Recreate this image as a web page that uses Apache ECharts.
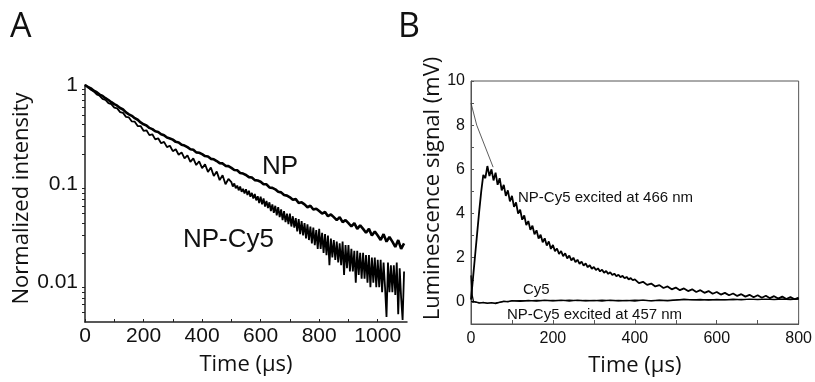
<!DOCTYPE html>
<html><head><meta charset="utf-8">
<script src="https://cdn.jsdelivr.net/npm/echarts@6/dist/echarts.min.js"></script>
<style>html,body{margin:0;padding:0;background:#fff}#c{width:815px;height:382px}</style>
</head><body><div id="c"></div>
<script>
// ---------- Panel A data (time in µs, normalized intensity) ----------
const timeNpA = [0,10,20,30,40,50,60,70,80,90,100,110,120,130,140,150,160,170,180,190,200,210,220,230,240,250,260,270,280,290,300,310,320,330,340,350,360,370,380,390,400,410,420,430,440,450,460,470,480,490,500,510,520,530,540,550,560,570,580,590,600,610,620,630,640,650,660,670,680,690,700,710,720,730,740,750,760,770,780,790,800,810,820,830,840,850,860,870,880,890,900,910,920,930,940,950,960,970,980,990,1000,1010,1020,1030,1040,1050,1060,1070,1080,1090];
const npA = [1.00,0.955,0.925,0.875,0.845,0.80,0.775,0.735,0.705,0.670,0.64,0.617,0.585,0.565,0.528,0.505,0.488,0.462,0.445,0.418,0.40,0.39,0.368,0.358,0.340,0.335,0.318,0.310,0.294,0.288,0.280,0.266,0.262,0.248,0.244,0.235,0.224,0.221,0.208,0.206,0.200,0.191,0.189,0.179,0.177,0.170,0.162,0.161,0.152,0.151,0.145,0.138,0.137,0.129,0.127,0.123,0.117,0.116,0.109,0.108,0.105,0.099,0.099,0.092,0.091,0.088,0.083,0.082,0.077,0.076,0.073,0.069,0.070,0.064,0.065,0.062,0.058,0.060,0.055,0.056,0.053,0.050,0.052,0.047,0.049,0.046,0.043,0.046,0.041,0.043,0.040,0.037,0.040,0.035,0.038,0.035,0.032,0.035,0.030,0.033,0.030,0.027,0.031,0.026,0.029,0.026,0.023,0.027,0.022,0.025];
const timeCy5A = [0,10,20,30,40,50,60,70,80,90,100,110,120,130,140,150,160,170,180,190,200,210,220,230,240,250,260,270,280,290,300,310,320,330,340,350,360,370,380,390,400,410,420,430,440,450,460,470,480,490,
  500,505,510,515,520,525,530,535,540,545,550,555,560,565,570,575,580,585,590,595,600,605,610,615,620,625,630,635,640,645,650,655,660,665,670,675,680,685,690,695,700,705,710,715,720,725,730,735,740,745,750,755,760,765,770,775,780,785,790,795,800,805,810,815,820,825,830,835,840,845,850,855,860,865,870,875,880,885,890,895,900,905,910,915,920,925,930,935,940,945,950,955,960,965,970,975,980,985,990,995,1000,1005,1010,1015,1020,1025,1030,1035,1040,1045,1050,1055,1060,1065,1070,1075,1080,1085,1090];
const npCy5A = [1.0,0.955,0.895,0.862,0.804,0.778,0.725,0.705,0.654,0.64,0.59,0.58,0.532,0.522,0.476,0.47,0.428,0.425,0.384,0.384,0.344,0.348,0.311,0.317,0.282,0.289,0.257,0.266,0.235,0.243,0.214,0.224,0.197,0.208,0.181,0.194,0.167,0.181,0.155,0.169,0.144,0.158,0.132,0.146,0.120,0.133,0.109,0.122,0.099,0.112,
  0.104,0.094,0.101,0.090,0.096,0.086,0.094,0.083,0.089,0.080,0.088,0.077,0.085,0.074,0.081,0.071,0.079,0.068,0.075,0.064,0.074,0.062,0.071,0.059,0.067,0.057,0.065,0.053,0.062,0.051,0.060,0.048,0.058,0.046,0.055,0.043,0.053,0.041,0.050,0.039,0.050,0.037,0.047,0.036,0.045,0.033,0.044,0.031,0.042,0.030,0.040,0.028,0.039,0.027,0.037,0.025,0.036,0.024,0.034,0.022,0.035,0.022,0.032,0.020,0.031,0.019,0.030,0.015,0.028,0.018,0.027,0.017,0.026,0.016,0.025,0.015,0.026,0.012,0.024,0.014,0.024,0.013,0.022,0.013,0.021,0.010,0.021,0.012,0.020,0.011,0.020,0.011,0.019,0.010,0.019,0.009,0.018,0.010,0.018,0.009,0.017,0.009,0.017,0.008,0.016,0.009,0.0045,0.016,0.008,0.015,0.008,0.015,0.0075,0.016,0.0048,0.014,0.007,0.0042,0.013];
const yTicksA = [0.01,0.1,1];
const yMinorA = [0.005,0.006,0.007,0.008,0.009,0.02,0.03,0.04,0.05,0.06,0.07,0.08,0.09,0.2,0.3,0.4,0.5,0.6,0.7,0.8,0.9];
const xLabelsA = [0,200,400,600,800,1000];
const xTicksA = [0,100,200,300,400,500,600,700,800,900,1000];

// ---------- Panel B data (time in µs, signal in mV) ----------
const time466 = [0,5,10,15,20,25,30,35,40,45,50,55,60,65,70,75,80,85,90,95,100,105,110,115,120,125,130,135,140,145,150,155,160,165,170,175,180,185,190,195,200,205,210,215,220,225,230,235,240,245,250,255,260,265,270,275,280,285,290,295,300,305,310,315,320,325,330,335,340,345,350,355,360,365,370,375,380,385,390,395,400,
  410,420,430,440,450,460,470,480,490,500,510,520,530,540,550,560,570,580,590,600,610,620,630,640,650,660,670,680,690,700,710,720,730,740,750,760,770,780,790,800];
const exc466 = [0.1,1.1,2.1,3.1,4.1,5.0,5.75,5.6,6.15,5.7,6.0,5.5,5.85,5.3,5.6,5.05,5.3,4.8,5.05,4.55,4.8,4.3,4.5,4.0,4.18,3.72,3.92,3.48,3.66,3.26,3.45,3.06,3.24,2.87,3.04,2.70,2.88,2.55,2.74,2.40,2.58,2.30,2.42,2.17,2.30,2.07,2.20,1.97,2.10,1.88,2.00,1.80,1.91,1.72,1.82,1.64,1.74,1.57,1.66,1.50,1.58,1.44,1.52,1.38,1.46,1.32,1.40,1.27,1.34,1.22,1.28,1.16,1.23,1.12,1.18,1.07,1.13,1.02,1.08,0.98,1.02,
  0.85,0.91,0.77,0.83,0.70,0.76,0.63,0.70,0.57,0.65,0.53,0.61,0.49,0.57,0.45,0.53,0.41,0.49,0.37,0.45,0.33,0.41,0.30,0.38,0.27,0.35,0.24,0.32,0.21,0.30,0.19,0.28,0.17,0.26,0.15,0.24,0.13,0.22,0.12,0.19];
const timeCy5 = [0,3,6,10,20,30,40,50,60,70,80,90,100,120,140,160,180,200,220,240,260,280,300,320,340,360,380,400,420,440,460,480,500,520,540,560,580,600,620,640,660,680,700,720,740,760,780,800];
const cy5B = [1.2,0.3,0.02,-0.03,-0.06,-0.02,-0.07,-0.03,-0.08,-0.02,0.03,0.0,0.06,0.03,0.07,0.04,0.08,0.05,0.08,0.04,0.08,0.05,0.07,0.04,0.08,0.05,0.07,0.04,0.08,0.05,0.07,0.05,0.08,0.12,0.09,0.11,0.08,0.11,0.09,0.12,0.09,0.13,0.10,0.13,0.10,0.13,0.11,0.14];
const time457 = [0,20,40,60,80,100,120,140,160,180,200,220,240,260,280,300,320,340,360,380,400,420,440,460,480,500,520,540,560,580,600,620,640,660,680,700,720,740,760,780,800];
const exc457 = [0.02,-0.03,-0.05,-0.04,0.01,0.04,0.06,0.05,0.07,0.06,0.07,0.06,0.08,0.06,0.07,0.06,0.08,0.06,0.07,0.06,0.08,0.07,0.06,0.08,0.07,0.09,0.10,0.10,0.09,0.11,0.10,0.11,0.10,0.12,0.11,0.12,0.11,0.12,0.12,0.13,0.13];
const fitTime = [0,14,54];
const fitVal = [9.0,8.0,6.1];
const yLabelsB = [0,2,4,6,8,10];
const yTicksB = [0,1,2,3,4,5,6,7,8,9,10];
const xLabelsB = [0,200,400,600,800];
const xTicksB = [0,100,200,300,400,500,600,700,800];

const pair = (t, v) => t.map((x, i) => [x, v[i]]);
const ink = '#111';
const sans = 'Liberation Sans';
const title = 'Open Sans';
const hiddenX = g => ({type: 'value', gridIndex: g, min: 0, max: 1, show: false});
const tickOnly = (g, vals, len) => ({type: 'log', logBase: 10, gridIndex: g, min: 0.004, max: 1, position: 'right',
  axisLine: {show: false}, axisLabel: {show: false}, splitLine: {show: false},
  axisTick: {show: true, inside: true, length: len, customValues: vals, lineStyle: {color: '#222', width: 1}}});

const chart = echarts.init(document.getElementById('c'), null, {renderer: 'canvas'});
chart.setOption({
  animation: false,
  backgroundColor: '#fff',
  grid: [
    {left: 85, top: 85, width: 322, height: 237, show: false},
    {left: 471, top: 81, width: 330, height: 244, show: true, borderColor: '#555', borderWidth: 1, backgroundColor: 'transparent'},
    {left: 0, top: 85, width: 85, height: 237, show: false},
    {left: 0, top: 85, width: 85, height: 237, show: false}
  ],
  xAxis: [
    {type: 'value', gridIndex: 0, min: 0, max: 1100,
     name: 'Time (µs)', nameLocation: 'middle', nameGap: 32,
     nameTextStyle: {fontFamily: title, fontSize: 22, color: ink},
     axisLine: {show: true, lineStyle: {color: '#222', width: 1.5}},
     axisTick: {show: true, inside: true, length: 3, customValues: xTicksA, lineStyle: {color: '#222'}},
     axisLabel: {customValues: xLabelsA, fontFamily: sans, fontSize: 21, color: ink, margin: 4,
                 formatter: v => String(Math.round(v))},
     splitLine: {show: false}},
    {type: 'value', gridIndex: 1, min: 0, max: 800,
     name: 'Time (µs)', nameLocation: 'middle', nameGap: 31,
     nameTextStyle: {fontFamily: title, fontSize: 22, color: ink},
     axisLine: {show: true, onZero: false, lineStyle: {color: '#555', width: 1}},
     axisTick: {show: true, inside: true, length: 4, customValues: xTicksB, lineStyle: {color: '#555'}},
     axisLabel: {customValues: xLabelsB, fontFamily: sans, fontSize: 16, color: ink, margin: 7,
                 formatter: v => String(Math.round(v))},
     splitLine: {show: false}},
    hiddenX(2), hiddenX(3)
  ],
  yAxis: [
    {type: 'log', logBase: 10, gridIndex: 0, min: 0.004, max: 1,
     name: 'Normalized intensity', nameLocation: 'middle', nameGap: 52,
     nameTextStyle: {fontFamily: title, fontSize: 22, color: ink, padding: [0, 0, 0, 10]},
     axisLine: {show: true, lineStyle: {color: '#222', width: 1.5}},
     axisTick: {show: true, inside: false, length: 3, customValues: yMinorA, lineStyle: {color: '#222'}},
     axisLabel: {customValues: yTicksA, fontFamily: sans, fontSize: 21, color: ink, margin: 7,
                 formatter: v => v >= 0.99 ? '1' : (v >= 0.099 ? '0.1' : '0.01')},
     splitLine: {show: false}},
    {type: 'value', gridIndex: 1, min: -1, max: 10,
     name: 'Luminescence signal (mV)', nameLocation: 'middle', nameGap: 24,
     nameTextStyle: {fontFamily: title, fontSize: 22, color: ink, padding: [0, 0, 0, 28]},
     axisLine: {show: true, onZero: false, lineStyle: {color: '#555', width: 1}},
     axisTick: {show: true, inside: true, length: 3, customValues: yTicksB, lineStyle: {color: '#555'}},
     axisLabel: {customValues: yLabelsB, fontFamily: sans, fontSize: 16, color: ink, margin: 6},
     splitLine: {show: false}},
    tickOnly(2, yMinorA, 3),
    tickOnly(3, yTicksA, 6)
  ],
  series: [
    {name: 'NP', type: 'line', xAxisIndex: 0, yAxisIndex: 0, data: pair(timeNpA, npA),
     showSymbol: false, lineStyle: {color: '#000', width: 2.6}, z: 3},
    {name: 'NP-Cy5', type: 'line', xAxisIndex: 0, yAxisIndex: 0, data: pair(timeCy5A, npCy5A),
     showSymbol: false, lineStyle: {color: '#000', width: 1.8}, z: 3},
    {name: 'NP-Cy5 excited at 466 nm', type: 'line', xAxisIndex: 1, yAxisIndex: 1, data: pair(time466, exc466),
     showSymbol: false, lineStyle: {color: '#000', width: 1.8}},
    {name: 'Cy5', type: 'line', xAxisIndex: 1, yAxisIndex: 1, data: pair(timeCy5, cy5B),
     showSymbol: false, lineStyle: {color: '#000', width: 1.3}},
    {name: 'NP-Cy5 excited at 457 nm', type: 'line', xAxisIndex: 1, yAxisIndex: 1, data: pair(time457, exc457),
     showSymbol: false, lineStyle: {color: '#000', width: 1.2}},
    {name: 'fit', type: 'line', xAxisIndex: 1, yAxisIndex: 1, data: pair(fitTime, fitVal),
     showSymbol: false, lineStyle: {color: '#333', width: 0.8}}
  ],
  graphic: [
    {type: 'text', left: 10, top: 10, style: {text: 'A', font: '34px "Open Sans"', fill: ink}},
    {type: 'text', left: 398, top: 10, style: {text: 'B', font: '34px "Open Sans"', fill: ink}},
    {type: 'text', x: 262, y: 167, style: {text: 'NP', font: '26px "Liberation Sans"', fill: ink, verticalAlign: 'middle'}},
    {type: 'text', x: 183, y: 240, style: {text: 'NP-Cy5', font: '26px "Liberation Sans"', fill: ink, verticalAlign: 'middle'}},
    {type: 'text', x: 518, y: 198, style: {text: 'NP-Cy5 excited at 466 nm', font: '15px "Liberation Sans"', fill: ink, verticalAlign: 'middle'}},
    {type: 'text', x: 523, y: 290, style: {text: 'Cy5', font: '15px "Liberation Sans"', fill: ink, verticalAlign: 'middle'}},
    {type: 'text', x: 507, y: 315, style: {text: 'NP-Cy5 excited at 457 nm', font: '15px "Liberation Sans"', fill: ink, verticalAlign: 'middle'}}
  ]
});
</script></body></html>
